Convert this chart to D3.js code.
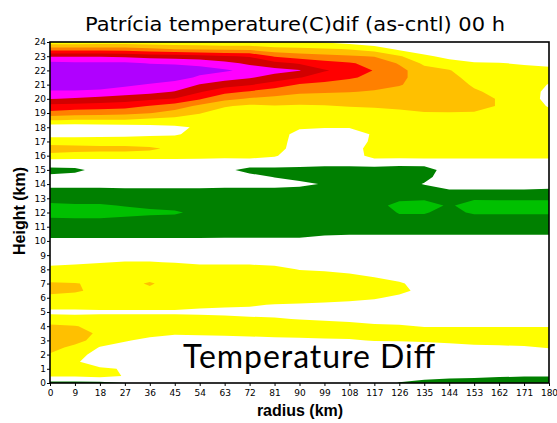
<!DOCTYPE html>
<html>
<head>
<meta charset="utf-8">
<script src="https://cdn.jsdelivr.net/npm/d3@7"></script>
<style>
  body { margin: 0; background: #fff; }
  svg { display: block; }
</style>
</head>
<body>
<svg width="557" height="423"></svg>
<script>
// grid of the model output: radius columns and height rows
const radii = [0, 9, 18, 27, 36, 45, 54, 63, 72, 81, 90, 99, 108, 117, 126, 135, 144, 153, 162, 171, 180];
const heights = [0, 0.5, 1, 1.5, 2, 2.5, 3, 3.5, 4, 4.5, 5, 5.5, 6, 6.5, 7, 7.5, 8, 8.5, 9, 9.5,
  10, 10.5, 11, 11.5, 12, 12.5, 13, 13.5, 14, 14.5, 15, 15.5, 16, 16.5, 17, 17.5, 18, 18.5, 19, 19.5,
  20, 20.5, 21, 21.5, 22, 22.5, 23, 23.5, 24];

// temperature difference (C), one vertical profile per radius
const tempDiff = [
  // r = 0
  [-0.8, 0.6, 1.0, 1.2, 1.4, 1.9, 2.1, 2.1, 1.7, 0.8,
   0.35, 0.8, 1.2, 1.8, 1.6, 1.0, 0.7, 0.3, 0, 0,
   -0.3, -0.8, -1.0, -1.35, -1.9, -1.7, -1.1, -0.7, -0.3, -0.4,
   -0.65, -0.2, 1.2, 2.0, 1.0, 0.15, -0.2, 1.55, 3.2, 4.2,
   5.55, 6.3, 7.5, 8.0, 7.8, 6.8, 5.4, 3.0, 0.8],
  // r = 9
  [-0.8, 0.6, 0.9, 0.6, 0.9, 1.2, 1.9, 2.0, 1.55, 0.8,
   0.3, 0.9, 1.2, 1.6, 1.55, 1.0, 0.8, 0.35, 0, 0,
   -0.3, -0.8, -1.0, -1.4, -1.9, -1.6, -1.1, -0.7, -0.3, -0.35,
   -0.6, -0.2, 1.1, 1.9, 1.0, 0.15, -0.15, 1.4, 3.0, 4.1,
   5.4, 6.3, 7.4, 7.9, 7.7, 6.7, 5.4, 3.0, 0.8],
  // r = 18
  [-0.75, 0.8, 0.6, 0.1, 0.1, 0.45, 1.0, 1.3, 1.2, 0.8,
   0.35, 0.9, 1.2, 1.3, 1.3, 1.2, 1.0, 0.45, 0, 0,
   -0.3, -0.8, -1.0, -1.4, -1.9, -1.6, -1.1, -0.7, -0.3, -0.2,
   -0.35, -0.2, 1.1, 1.8, 1.0, 0.2, -0.1, 1.4, 2.9, 4.0,
   5.2, 6.2, 7.2, 7.8, 7.6, 6.7, 5.4, 3.0, 0.9],
  // r = 27
  [-0.5, 0.45, 0.45, 0, 0, 0.1, 0.6, 1.2, 1.3, 0.8,
   0.35, 0.9, 1.2, 1.3, 1.35, 1.3, 1.1, 0.55, 0, 0,
   -0.3, -0.8, -1.0, -1.3, -1.8, -1.45, -1.1, -0.7, -0.2, -0.1,
   -0.1, -0.2, 1.1, 1.8, 1.0, 0.25, 0.0, 1.4, 2.8, 3.9,
   5.0, 6.0, 6.7, 7.6, 7.5, 6.7, 5.3, 3.0, 0.9],
  // r = 36
  [0, 0, 0, 0, 0, 0, 0.2, 0.9, 1.3, 0.8,
   0.35, 0.9, 1.2, 1.4, 1.55, 1.3, 1.1, 0.55, 0, 0,
   -0.3, -0.8, -1.0, -1.2, -1.7, -1.3, -1.0, -0.7, -0.2, -0.1,
   -0.1, -0.2, 1.1, 1.65, 1.0, 0.35, 0.2, 1.2, 2.55, 3.45,
   4.7, 5.8, 6.4, 7.2, 7.3, 6.45, 5.1, 2.7, 0.8],
  // r = 45
  [0, 0, 0, 0, 0, 0, 0.1, 0.6, 1.2, 0.8,
   0.35, 0.9, 1.2, 1.3, 1.3, 1.25, 1.1, 0.45, 0, 0,
   -0.3, -0.8, -1.0, -1.1, -1.65, -1.1, -1.0, -0.7, -0.2, -0.1,
   -0.1, -0.2, 1.1, 1.3, 1.0, 0.4, 0.35, 1.1, 2.1, 3.0,
   4.45, 5.45, 6.1, 6.9, 7.0, 6.4, 5.0, 2.45, 0.8],
  // r = 54
  [0, 0, 0, 0, 0, 0, 0.1, 0.65, 1.2, 0.8,
   0.3, 0.7, 1.2, 1.3, 1.3, 1.2, 0.9, 0.3, 0, 0,
   -0.3, -0.8, -1.0, -1.05, -1.2, -1.1, -1.0, -0.7, -0.2, -0.1,
   -0.4, -0.2, 1.0, 1.2, 1.1, 0.8, 0.6, 0.95, 1.55, 2.3,
   3.6, 4.6, 5.45, 6.35, 6.8, 6.3, 4.8, 2.35, 0.75],
  // r = 63
  [0, 0, 0, 0, 0, 0, 0.15, 0.7, 1.2, 0.75,
   0.25, 0.65, 1.1, 1.3, 1.3, 1.2, 0.9, 0.3, 0, 0,
   -0.3, -0.75, -1.0, -1.0, -1.0, -1.0, -1.0, -0.75, -0.25, -0.15,
   -0.35, -0.2, 0.9, 1.1, 1.1, 1.0, 0.8, 0.85, 1.1, 1.6,
   2.8, 3.8, 5.0, 5.9, 6.65, 5.8, 4.6, 2.25, 0.7],
  // r = 72
  [0, 0, 0, 0, 0, 0, 0.2, 0.75, 1.2, 0.65,
   0.2, 0.6, 1.1, 1.3, 1.3, 1.2, 0.9, 0.3, 0, 0,
   -0.3, -0.75, -1.0, -1.0, -1.0, -1.0, -1.0, -0.75, -0.25, -0.3,
   -0.7, -0.1, 0.9, 1.1, 1.1, 1.0, 0.9, 0.85, 1.0, 1.3,
   2.4, 3.4, 4.6, 5.6, 6.2, 5.3, 4.4, 2.2, 0.7],
  // r = 81
  [0, 0, 0, 0, 0, 0, 0.25, 0.8, 1.2, 0.6,
   0.15, 0.45, 1.0, 1.2, 1.25, 1.1, 0.8, 0.2, 0, 0,
   -0.3, -0.75, -1.0, -1.0, -1.0, -1.0, -1.0, -0.75, -0.25, -0.52,
   -0.7, -0.1, 0.6, 1.0, 1.1, 1.1, 1.0, 0.9, 1.0, 1.45,
   2.2, 3.0, 4.0, 5.1, 5.85, 4.8, 3.4, 1.8, 0.7],
  // r = 90
  [0, 0, 0, 0, 0, 0, 0.3, 0.85, 1.1, 0.45,
   0.1, 0.4, 0.95, 1.2, 1.2, 1.0, 0.45, 0.1, 0, 0,
   -0.3, -0.75, -1.0, -1.0, -1.0, -1.0, -1.0, -0.75, -0.35, -0.7,
   -0.75, -0.15, -0.1, -0.1, -0.05, 0.1, 0.65, 0.9, 1.1, 1.4,
   2.0, 2.7, 3.4, 4.55, 5.55, 4.4, 3.0, 1.7, 0.65],
  // r = 99
  [0, 0, 0, 0, 0, 0, 0.35, 0.9, 1.0, 0.35,
   0.05, 0.3, 0.9, 1.1, 1.1, 0.9, 0.35, 0, 0, 0,
   -0.2, -0.6, -1.0, -1.0, -1.0, -1.0, -1.0, -0.8, -0.55, -0.8,
   -0.8, -0.2, -0.1, -0.1, -0.05, 0.1, 0.55, 0.9, 1.1, 1.45,
   2.0, 2.6, 3.2, 4.0, 4.6, 3.9, 2.8, 1.6, 0.4],
  // r = 108
  [0, 0, 0, 0, 0, 0, 0.4, 0.9, 0.85, 0.25,
   0, 0.25, 0.75, 1.05, 1.0, 0.7, 0.2, 0, 0, 0,
   -0.2, -0.55, -1.0, -1.0, -1.1, -1.1, -1.0, -0.8, -0.55, -0.8,
   -0.8, -0.2, -0.1, -0.1, -0.05, 0.1, 0.55, 0.9, 1.1, 1.55,
   1.9, 2.55, 3.1, 3.6, 4.1, 3.6, 2.6, 1.45, 0.1],
  // r = 117
  [0, 0, 0, 0, 0, 0, 0.55, 0.9, 0.65, 0.15,
   0, 0.1, 0.6, 1.0, 0.9, 0.45, 0, 0, 0, 0,
   -0.2, -0.55, -1.0, -1.05, -1.1, -1.15, -1.0, -0.8, -0.7, -0.8,
   -0.8, -0.1, 0.9, 1.0, 0.7, 0.6, 0.9, 1.0, 1.2, 1.6,
   2.0, 2.4, 2.9, 3.3, 3.45, 3.2, 2.45, 1.0, -0.1],
  // r = 126
  [-0.55, 0, 0, 0, 0, 0.1, 0.55, 0.9, 0.6, 0.1,
   0, 0, 0.3, 0.75, 0.6, 0.2, 0, 0, 0, 0,
   -0.2, -0.55, -1.0, -1.3, -1.55, -1.8, -1.3, -1.0, -0.9, -0.9,
   -0.85, -0.2, 0.9, 1.0, 1.0, 1.0, 1.0, 1.0, 1.3, 1.7,
   2.1, 2.3, 2.55, 2.7, 2.8, 2.4, 1.6, 0.3, -0.3],
  // r = 135
  [-0.9, 0, 0, 0, 0, 0.15, 0.6, 0.9, 0.45, 0.05,
   0, 0, 0.05, 0.2, 0.15, 0, 0, 0, 0, 0,
   -0.2, -0.55, -1.0, -1.3, -1.55, -2.0, -1.3, -1.0, -0.45, -0.7,
   -0.9, -0.1, 0.9, 1.0, 1.0, 1.0, 1.0, 1.1, 1.45, 1.8,
   2.1, 2.2, 2.2, 2.1, 1.9, 1.3, 0.7, -0.1, -0.4],
  // r = 144
  [-1.0, -0.2, 0, 0, 0, 0.2, 0.7, 0.9, 0.45, 0.05,
   0, 0, 0, 0, 0, 0, 0, 0, 0, 0,
   -0.2, -0.55, -1.0, -1.2, -1.3, -1.35, -1.1, -0.6, -0.2, -0.1,
   -0.1, -0.1, 0.9, 1.0, 1.0, 1.0, 1.0, 1.1, 1.45, 1.9,
   2.0, 2.0, 1.9, 1.75, 1.55, 0.9, 0.2, -0.3, -0.5],
  // r = 153
  [-1.0, -0.3, 0, 0, 0, 0.3, 0.8, 0.85, 0.45, 0.05,
   0, 0, 0, 0, 0, 0, 0, 0, 0, 0,
   -0.2, -0.55, -1.0, -1.2, -1.6, -2.0, -1.35, -0.6, -0.2, -0.1,
   -0.1, -0.1, 0.9, 1.0, 1.0, 1.0, 1.0, 1.1, 1.45, 1.75,
   1.75, 1.6, 1.4, 1.2, 1.0, 0.6, 0.0, -0.4, -0.5],
  // r = 162
  [-1.0, -0.4, 0, 0, 0, 0.35, 0.85, 0.85, 0.45, 0.05,
   0, 0, 0, 0, 0, 0, 0, 0, 0, 0,
   -0.2, -0.55, -1.0, -1.2, -1.6, -2.0, -1.3, -0.6, -0.2, -0.1,
   -0.1, -0.1, 0.9, 1.0, 1.0, 1.0, 1.0, 1.05, 1.3, 1.45,
   1.45, 1.3, 1.2, 1.1, 0.9, 0.55, -0.1, -0.4, -0.5],
  // r = 171
  [-1.0, -0.45, 0, 0, 0, 0.4, 0.9, 0.85, 0.45, 0.05,
   0, 0, 0, 0, 0, 0, 0, 0, 0, 0,
   -0.2, -0.55, -1.0, -1.2, -1.6, -2.0, -1.3, -0.6, -0.2, -0.1,
   -0.1, -0.1, 0.9, 1.0, 1.0, 1.0, 1.0, 1.0, 1.1, 1.2,
   1.2, 1.1, 1.0, 0.95, 0.8, 0.4, -0.2, -0.4, -0.5],
  // r = 180
  [-1.0, -0.45, 0, 0, 0, 0.55, 0.95, 0.85, 0.45, 0.05,
   0, 0, 0, 0, 0, 0, 0, 0, 0, 0,
   -0.2, -0.55, -1.0, -1.2, -1.6, -2.0, -1.3, -0.65, -0.2, -0.1,
   -0.1, -0.1, 0.9, 1.0, 1.0, 1.0, 1.0, 1.0, 0.8, 0.4,
   0.1, 0.2, 0.45, 0.8, 0.7, 0.3, -0.3, -0.5, -0.5]
];

// shading levels and colours (lowest band is the background colour)
const levels = [-1.5, -0.5, 0.5, 1.5, 2.5, 3.5, 4.5, 5.5, 6.5];
const levelColors = ['#008000', '#ffffff', '#ffff00', '#ffc000', '#ff8000', '#ff0000', '#d20000', '#ff00ff', '#b000ff'];
const lowestColor = '#00c000';

const xTicks = [0, 9, 18, 27, 36, 45, 54, 63, 72, 81, 90, 99, 108, 117, 126, 135, 144, 153, 162, 171, 180];
const yTicks = [0, 1, 2, 3, 4, 5, 6, 7, 8, 9, 10, 11, 12, 13, 14, 15, 16, 17, 18, 19, 20, 21, 22, 23, 24];

const svg = d3.select('svg');

const plotLeft = 50, plotRight = 549, plotTop = 42, plotBottom = 383;

const x = d3.scaleLinear().domain([0, 180]).range([plotLeft, plotRight]);
const y = d3.scaleLinear().domain([0, 24]).range([plotBottom, plotTop]);

// grid index -> physical coordinate
const nx = radii.length, ny = heights.length;
const colToR = d3.scaleLinear().domain([0, nx - 1]).range([radii[0], radii[nx - 1]]);
const rowToH = d3.scaleLinear().domain([0, ny - 1]).range([heights[0], heights[ny - 1]]);

// flatten, row major (row = height)
const values = [];
for (let j = 0; j < ny; j++) {
  for (let i = 0; i < nx; i++) {
    values.push(tempDiff[i][j]);
  }
}

const contours = d3.contours()
  .size([nx, ny])
  .thresholds(levels)(values);

const gridProj = d3.geoTransform({
  point: function(px, py) {
    this.stream.point(x(colToR(px - 0.5)), y(rowToH(py - 0.5)));
  }
});
const path = d3.geoPath(gridProj);

svg.append('clipPath')
    .attr('id', 'plot-clip')
  .append('rect')
    .attr('x', plotLeft)
    .attr('y', plotTop)
    .attr('width', plotRight - plotLeft)
    .attr('height', plotBottom - plotTop);

const plot = svg.append('g')
  .attr('clip-path', 'url(#plot-clip)');

plot.append('rect')
  .attr('x', plotLeft)
  .attr('y', plotTop)
  .attr('width', plotRight - plotLeft)
  .attr('height', plotBottom - plotTop)
  .attr('fill', lowestColor);

plot.selectAll('path.band')
  .data(contours)
  .join('path')
    .attr('class', 'band')
    .attr('d', path)
    .attr('fill', (d, i) => levelColors[i])
    .attr('stroke', 'none');

// frame
svg.append('rect')
  .attr('x', plotLeft)
  .attr('y', plotTop)
  .attr('width', plotRight - plotLeft)
  .attr('height', plotBottom - plotTop)
  .attr('fill', 'none')
  .attr('stroke', '#000')
  .attr('stroke-width', 1.6);

// axes
const xAxis = svg.append('g')
  .attr('transform', `translate(0, ${plotBottom})`)
  .call(d3.axisBottom(x).tickValues(xTicks).tickFormat(d3.format('d')).tickSize(3).tickPadding(4));
const yAxis = svg.append('g')
  .attr('transform', `translate(${plotLeft}, 0)`)
  .call(d3.axisLeft(y).tickValues(yTicks).tickFormat(d3.format('d')).tickSize(3).tickPadding(1));

[xAxis, yAxis].forEach(a => {
  a.select('.domain').remove();
  a.attr('font-family', 'DejaVu Sans').attr('font-size', 9);
  a.selectAll('text').attr('fill', '#000');
  a.selectAll('line').attr('stroke', '#000');
});

// title and labels
svg.append('text')
  .attr('x', 295)
  .attr('y', 31)
  .attr('text-anchor', 'middle')
  .attr('font-family', 'DejaVu Sans')
  .attr('font-size', 20)
  .attr('textLength', 420)
  .attr('lengthAdjust', 'spacingAndGlyphs')
  .text('Patrícia temperature(C)dif (as-cntl) 00 h');

svg.append('text')
  .attr('transform', 'translate(25, 211) rotate(-90)')
  .attr('text-anchor', 'middle')
  .attr('font-family', 'Liberation Sans')
  .attr('font-weight', 'bold')
  .attr('font-size', 16)
  .text('Height (km)');

svg.append('text')
  .attr('x', 300)
  .attr('y', 416)
  .attr('text-anchor', 'middle')
  .attr('font-family', 'Liberation Sans')
  .attr('font-weight', 'bold')
  .attr('font-size', 16)
  .text('radius (km)');

// overlay annotation
svg.append('text')
  .attr('x', 183)
  .attr('y', 368)
  .attr('font-family', 'Lato')
  .attr('font-size', 32)
  .attr('textLength', 252)
  .attr('lengthAdjust', 'spacing')
  .text('Temperature Diff');
</script>
</body>
</html>
